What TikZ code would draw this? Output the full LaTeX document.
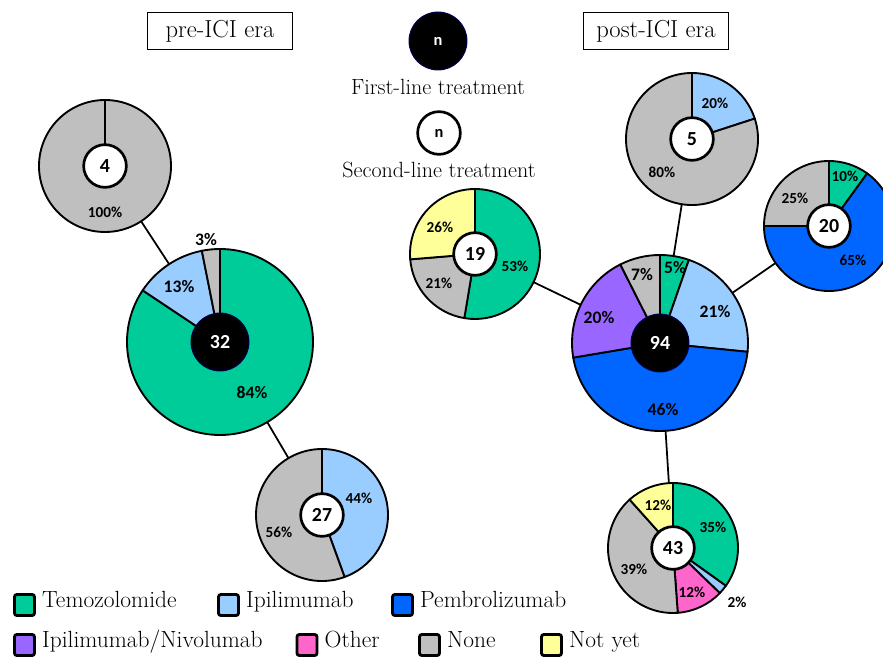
\documentclass[tikz,border=0pt]{standalone}
\usepackage{fontspec}
\newfontfamily\lblfont{Carlito}
\usetikzlibrary{positioning}

\definecolor{cTemo}{HTML}{00CC99}
\definecolor{cIpi}{HTML}{99CCFF}
\definecolor{cPembro}{HTML}{0066FF}
\definecolor{cIpiNivo}{HTML}{9966FF}
\definecolor{cOther}{HTML}{FF66CC}
\definecolor{cNone}{HTML}{BFBFBF}
\definecolor{cNotYet}{HTML}{FFFF99}

% one slice: centre node, radius, start angle, end angle, colour
\newcommand{\pieslice}[5]{%
  \filldraw[fill=#5, draw=black, line width=1.6pt, line join=round]
    (#1.center) -- ++(#3:#2) arc[start angle=#3, end angle=#4, radius=#2] -- cycle;}

\begin{document}
\begin{tikzpicture}[
    x=0.03cm, y=0.03cm,
    pie/.style={circle, inner sep=0pt, minimum size=#1},
    link/.style={draw=black, line width=1.5pt},
    first/.style={circle, fill=black, draw=blue!35!black, line width=0.8pt,
        minimum size=1.74cm, inner sep=0pt, text=white,
        font=\lblfont\bfseries\fontsize{17}{17}\selectfont},
    second/.style={circle, fill=white, draw=black, line width=2.3pt,
        minimum size=1.28cm, inner sep=0pt,
        font=\lblfont\bfseries\fontsize{17}{17}\selectfont},
    pct/.style={font=\lblfont\bfseries\fontsize{13}{14}\selectfont},
    bigpct/.style={font=\lblfont\bfseries\fontsize{15}{16}\selectfont},
    era/.style={draw=black, line width=1.2pt, minimum width=4.35cm,
        minimum height=1.1cm, font=\fontsize{21}{24}\selectfont},
    keylbl/.style={font=\fontsize{18.8}{21}\selectfont},
    key/.style={draw=black, line width=2.4pt, rounded corners=2pt,
        minimum width=0.6cm, minimum height=0.63cm, inner sep=0pt},
    keytext/.style={anchor=west, inner sep=0pt, text height=0.7em, text depth=0.22em,
        font=\fontsize{20}{22}\selectfont}
]
    \useasboundingbox (0,0) rectangle (883,662);

    % pie placeholders, used as ends of the connectors
    \node[pie=3.96cm] (p4)  at (105,496) {};
    \node[pie=5.58cm] (p32) at (220,320) {};
    \node[pie=3.96cm] (p27) at (322,147) {};
    \node[pie=3.9cm]  (p19) at (475,408) {};
    \node[pie=5.28cm] (p94) at (660,319) {};
    \node[pie=3.96cm] (p5)  at (692,523) {};
    \node[pie=3.9cm]  (p20) at (829,436) {};
    \node[pie=3.9cm]  (p43) at (673,114) {};

    \path[link] (p32) -- (p4)  (p32) -- (p27);
    \path[link] (p94) -- (p19) (p94) -- (p5) (p94) -- (p20) (p94) -- (p43);

    % titles
    \node[era] (pre)  at (220,631) {pre-ICI era};
    \node[era] (post) at (656,631) {post-ICI era};

    % key
    \node[first] (kfirst) at (438,621) {\fontsize{14}{14}\selectfont n};
    \node[keylbl] (kfirstlbl) at (438,575) {First-line treatment};
    \node[second] (ksecond) at (439,529) {\fontsize{14}{14}\selectfont n};
    \node[keylbl] (ksecondlbl) at (439,492) {Second-line treatment};

    % pre-ICI era
    \pieslice{p4}{66}{90}{-270}{cNone}
    \node[second] (n4) at (p4) {4};
    \node[pct] at (105,450) {100\%};

    \pieslice{p32}{93}{90}{-213.75}{cTemo}
    \pieslice{p32}{93}{-213.75}{-258.75}{cIpi}
    \pieslice{p32}{93}{-258.75}{-270}{cNone}
    \node[first] (n32) at (p32) {32};
    \node[bigpct] at (252,269) {84\%};
    \node[bigpct] at (179,375) {13\%};
    \node[bigpct] at (206,422) {3\%};

    \pieslice{p27}{66}{90}{-70}{cIpi}
    \pieslice{p27}{66}{-70}{-270}{cNone}
    \node[second] (n27) at (p27) {27};
    \node[pct] at (359,164) {44\%};
    \node[pct] at (279,130) {56\%};

    % post-ICI era
    \pieslice{p19}{65}{90}{-99.47}{cTemo}
    \pieslice{p19}{65}{-99.47}{-175.26}{cNone}
    \pieslice{p19}{65}{-175.26}{-270}{cNotYet}
    \node[second] (n19) at (p19) {19};
    \node[pct] at (515,396) {53\%};
    \node[pct] at (440,435) {26\%};
    \node[pct] at (439,379) {21\%};

    \pieslice{p94}{88}{90}{70.85}{cTemo}
    \pieslice{p94}{88}{70.85}{-5.75}{cIpi}
    \pieslice{p94}{88}{-5.75}{-170.43}{cPembro}
    \pieslice{p94}{88}{-170.43}{-243.19}{cIpiNivo}
    \pieslice{p94}{88}{-243.19}{-270}{cNone}
    \node[first] (n94) at (p94) {94};
    \node[bigpct] at (675,394) {5\%};
    \node[bigpct] at (715,350) {21\%};
    \node[bigpct] at (663,252) {46\%};
    \node[bigpct] at (599,344) {20\%};
    \node[bigpct] at (642,387) {7\%};

    \pieslice{p5}{66}{90}{18}{cIpi}
    \pieslice{p5}{66}{18}{-270}{cNone}
    \node[second] (n5) at (p5) {5};
    \node[pct] at (715,559) {20\%};
    \node[pct] at (662,490) {80\%};

    \pieslice{p20}{65}{90}{54}{cTemo}
    \pieslice{p20}{65}{54}{-180}{cPembro}
    \pieslice{p20}{65}{-180}{-270}{cNone}
    \node[second] (n20) at (p20) {20};
    \node[pct] at (845,486) {10\%};
    \node[pct] at (853,402) {65\%};
    \node[pct] at (795,464) {25\%};

    \pieslice{p43}{65}{90}{-35.58}{cTemo}
    \pieslice{p43}{65}{-35.58}{-43.95}{cIpi}
    \pieslice{p43}{65}{-43.95}{-85.81}{cOther}
    \pieslice{p43}{65}{-85.81}{-228.14}{cNone}
    \pieslice{p43}{65}{-228.14}{-270}{cNotYet}
    \node[second] (n43) at (p43) {43};
    \node[pct] at (713,135) {35\%};
    \node[pct] at (658,157) {12\%};
    \node[pct] at (634,93) {39\%};
    \node[pct] at (692,70) {12\%};
    \node[pct] at (737,60) {2\%};

    % legend
    \node[key, fill=cTemo]    (kTemo)    at (24.5,57) {};
    \node[keytext, right=0.18cm of kTemo] {Temozolomide};
    \node[key, fill=cIpi]     (kIpi)     at (228.5,57) {};
    \node[keytext, right=0.18cm of kIpi] {Ipilimumab};
    \node[key, fill=cPembro]  (kPembro)  at (402.5,57) {};
    \node[keytext, right=0.18cm of kPembro] {Pembrolizumab};
    \node[key, fill=cIpiNivo] (kIpiNivo) at (24.5,17) {};
    \node[keytext, right=0.18cm of kIpiNivo] {Ipilimumab/Nivolumab};
    \node[key, fill=cOther]   (kOther)   at (307,17) {};
    \node[keytext, right=0.18cm of kOther] {Other};
    \node[key, fill=cNone]    (kNone)    at (429.5,17) {};
    \node[keytext, right=0.18cm of kNone] {None};
    \node[key, fill=cNotYet]  (kNotYet)  at (551.5,17) {};
    \node[keytext, right=0.18cm of kNotYet] {Not yet};
\end{tikzpicture}
\end{document}
